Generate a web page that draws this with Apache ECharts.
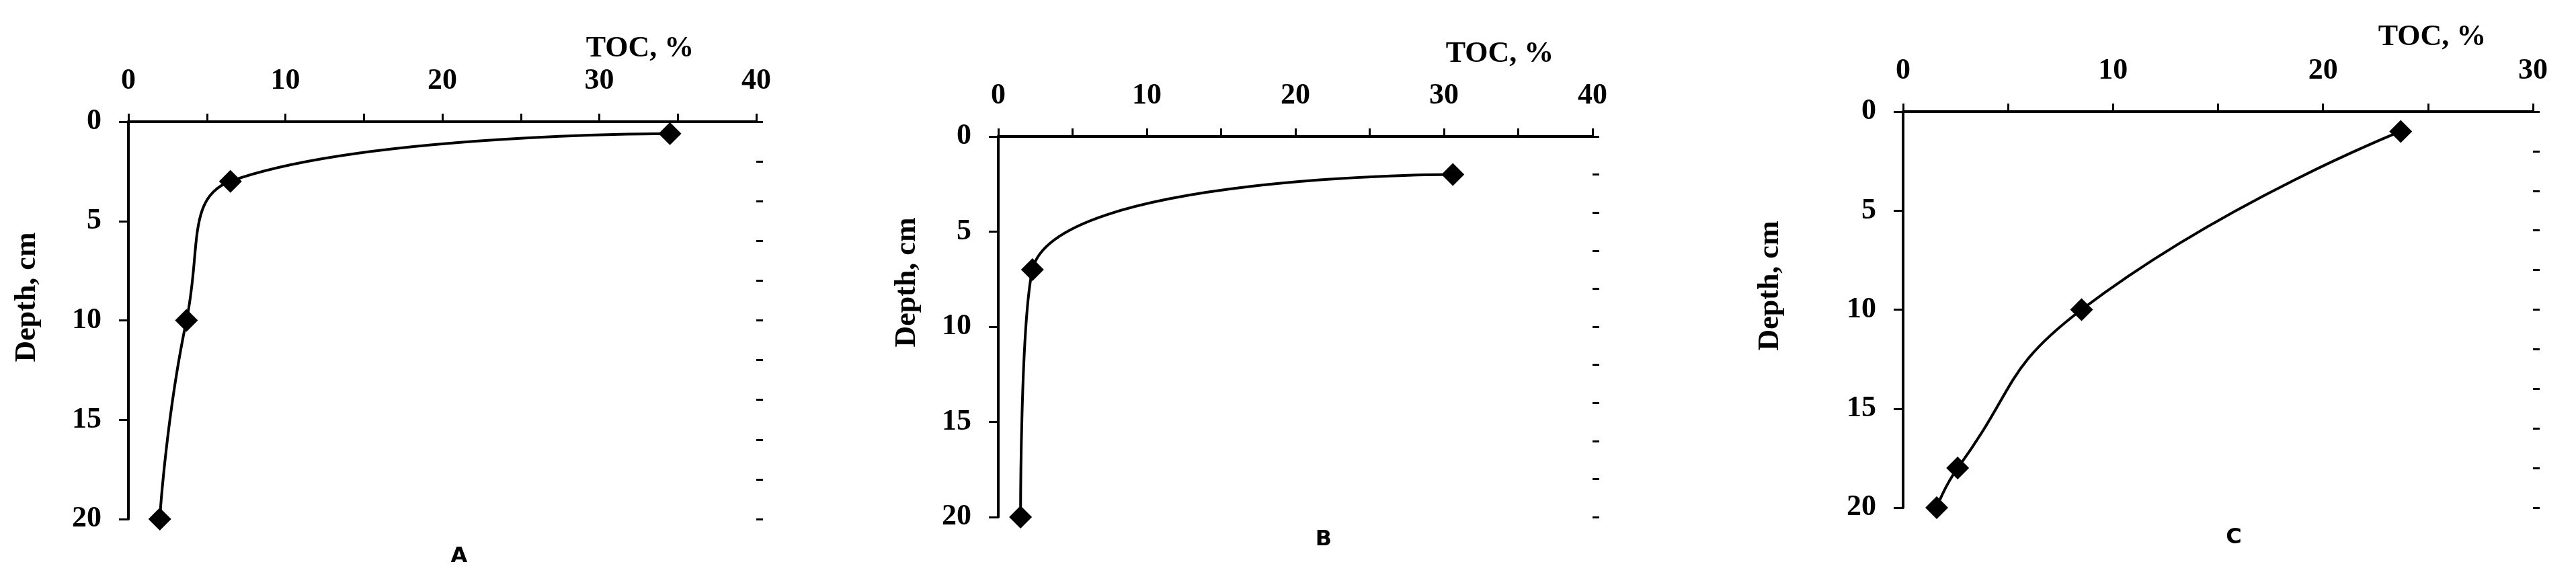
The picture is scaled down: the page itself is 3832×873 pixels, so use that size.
<!DOCTYPE html>
<html><head><meta charset="utf-8">
<script src="https://cdn.jsdelivr.net/npm/echarts@6/dist/echarts.min.js"></script>
<style>html,body{margin:0;padding:0;background:#fff}#c{width:3832px;height:873px}</style>
</head><body><div id="c"></div>
<script>
const panelLabels = ['A', 'B', 'C'];
const xMax = [40, 40, 30];
const xTickLabels = [[0,10,20,30,40],[0,10,20,30,40],[0,10,20,30]];
const yTickLabels = [0,5,10,15,20];
const tocA = [34.5, 6.5, 3.7, 2.0];
const depthA = [0.6, 3, 10, 20];
const tocB = [30.6, 2.3, 1.5];
const depthB = [2, 7, 20];
const tocC = [23.7, 8.5, 2.6, 1.6];
const depthC = [1, 10, 18, 20];

const grids = [
  {left:191, top:181, width:934, height:591},
  {left:1485, top:203, width:884, height:566},
  {left:2831, top:166, width:937, height:589}
];
const series = [[tocA,depthA],[tocB,depthB],[tocC,depthC]];
const font = 'Liberation Serif';
const opt = {animation:false, backgroundColor:'#fff', grid:[], xAxis:[], yAxis:[], series:[], graphic:[]};
const axLine = {show:true, lineStyle:{color:'#000', width:4}};
grids.forEach((g,i)=>{
  opt.grid.push(g);
  opt.xAxis.push({type:'value', gridIndex:i, position:'top', min:0, max:xMax[i], interval:5,
    axisLine:axLine, axisTick:{show:true, length:12, lineStyle:{color:'#000', width:3}},
    splitLine:{show:false},
    axisLabel:{margin:38, fontFamily:font, fontWeight:'bold', fontSize:44, color:'#000',
      formatter:v=> xTickLabels[i].includes(v) ? String(v) : ''}});
  // major y axis with labels
  opt.yAxis.push({type:'value', gridIndex:i, inverse:true, min:0, max:20, interval:5,
    axisLine:axLine, axisTick:{show:true, length:14, lineStyle:{color:'#000', width:3}},
    splitLine:{show:false},
    axisLabel:{margin:40, fontFamily:font, fontWeight:'bold', fontSize:44, color:'#000',
      formatter:v=> yTickLabels.includes(v) ? String(v) : ''}});
  // minor y ticks every 2
  opt.yAxis.push({type:'value', gridIndex:i, inverse:true, min:0, max:20, interval:2,
    axisLine:{show:false}, axisTick:{show:true, length:10, lineStyle:{color:'#000', width:3}},
    splitLine:{show:false}, axisLabel:{show:false}});
  const [xs, ys] = series[i];
  opt.series.push({type:'line', xAxisIndex:i, yAxisIndex:i*2, smooth:0.5,
    data: xs.map((x,k)=>[x, ys[k]]),
    symbol:'diamond', symbolSize:[34,34],
    lineStyle:{color:'#000', width:4}, itemStyle:{color:'#000'}});
});
const tocPos = [[952,73],[2231,81],[3618,56]];
const depthPos = [[41,442],[1350,420],[2634,425]];
const letterPos = [[683,828],[1969,803],[3323,800]];
for(let i=0;i<3;i++){
  opt.graphic.push({type:'text', x:tocPos[i][0], y:tocPos[i][1],
    style:{text:'TOC, %', font:'bold 44px "Liberation Serif"', fill:'#000', align:'center', verticalAlign:'middle'}});
  opt.graphic.push({type:'text', x:depthPos[i][0], y:depthPos[i][1], rotation:Math.PI/2,
    style:{text:'Depth, cm', font:'bold 44px "Liberation Serif"', fill:'#000', align:'center', verticalAlign:'middle'}});
  opt.graphic.push({type:'text', x:letterPos[i][0], y:letterPos[i][1],
    style:{text:panelLabels[i], font:'bold 32px "DejaVu Sans"', fill:'#000', align:'center', verticalAlign:'middle'}});
}
echarts.init(document.getElementById('c')).setOption(opt);
</script></body></html>
